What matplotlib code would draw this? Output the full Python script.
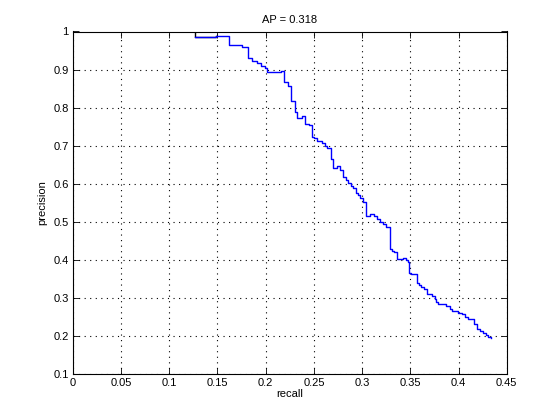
import numpy as np
import matplotlib
matplotlib.use("Agg")
import matplotlib.pyplot as plt

# precision/recall corners (start of each flat step)
recall = [0.1267, 0.1267, 0.1485, 0.1623, 0.1754, 0.1820, 0.1858, 0.1907, 0.1948, 0.1993,
          0.2017, 0.2114, 0.2156, 0.2193, 0.2231, 0.2266, 0.2304, 0.2328, 0.2380, 0.2411,
          0.2449, 0.2483, 0.2504, 0.2529, 0.2584, 0.2612, 0.2633, 0.2674, 0.2703, 0.2743,
          0.2768, 0.2799, 0.2833, 0.2857, 0.2882, 0.2909, 0.2937, 0.2957, 0.2978, 0.3006,
          0.3037, 0.3082, 0.3123, 0.3151, 0.3185, 0.3220, 0.3248, 0.3289, 0.3313, 0.3334,
          0.3365, 0.3427, 0.3452, 0.3479, 0.3486, 0.3504, 0.3564, 0.3585, 0.3613, 0.3644,
          0.3676, 0.3725, 0.3751, 0.3766, 0.3787, 0.3842, 0.3873, 0.3911, 0.3932, 0.3994,
          0.4039, 0.4067, 0.4101, 0.4147, 0.4160, 0.4188, 0.4222, 0.4257, 0.4285, 0.4308,
          0.4333]
precision = [1.000, 0.9847, 0.9874, 0.9645, 0.9585, 0.9295, 0.9232, 0.9164, 0.9093, 0.9032,
             0.8948, 0.8927, 0.8961, 0.8672, 0.8567, 0.8167, 0.7875, 0.7733, 0.7770, 0.7568,
             0.7534, 0.7234, 0.7192, 0.7129, 0.7060, 0.6997, 0.6937, 0.6647, 0.6424, 0.6455,
             0.6366, 0.6166, 0.6095, 0.6008, 0.5945, 0.5893, 0.5746, 0.5701, 0.5614, 0.5509,
             0.5156, 0.5193, 0.5156, 0.5062, 0.4991, 0.4938, 0.4851, 0.4281, 0.4241, 0.4194,
             0.4031, 0.4044, 0.3992, 0.3947, 0.3642, 0.3616, 0.3395, 0.3329, 0.3295, 0.3242,
             0.3098, 0.3058, 0.2966, 0.2895, 0.2827, 0.2835, 0.2787, 0.2716, 0.2651, 0.2611,
             0.2564, 0.2501, 0.2448, 0.2432, 0.2301, 0.2169, 0.2125, 0.2064, 0.2019, 0.1975,
             0.1941]
ap = 0.318

xticks = np.arange(0, 0.451, 0.05)
yticks = np.arange(0.1, 1.001, 0.1)

plt.rcParams['font.family'] = ['Liberation Sans', 'DejaVu Sans']
plt.rcParams['font.size'] = 8

fig = plt.figure(figsize=(5.6, 4.2), dpi=100)
ax = fig.add_axes([0.13, 0.11, 0.775, 0.815])

# first step is black in the original
ax.plot(recall[:3], precision[:3], color="k", lw=1, drawstyle="steps-post")
ax.plot(recall[1:], precision[1:], color="b", lw=1, drawstyle="steps-post")

ax.set_xlim(0, 0.45)
ax.set_ylim(0.1, 1)
ax.set_xticks(xticks)
ax.set_yticks(yticks)
ax.set_xticklabels(["0", "0.05", "0.1", "0.15", "0.2", "0.25", "0.3", "0.35", "0.4", "0.45"])
ax.set_yticklabels(["0.1", "0.2", "0.3", "0.4", "0.5", "0.6", "0.7", "0.8", "0.9", "1"])
ax.tick_params(direction="in", top=True, right=True, length=4, width=0.6, pad=3)
ax.grid(True, color="k", linestyle=(0, (1, 4)), linewidth=0.8)
for s in ax.spines.values():
    s.set_linewidth(0.8)

ax.set_title(f"AP = {ap:.3f}", fontsize=8, pad=6)
ax.set_xlabel("recall", labelpad=1)
ax.set_ylabel("precision", labelpad=4)

fig.savefig("out.png", dpi=100)
